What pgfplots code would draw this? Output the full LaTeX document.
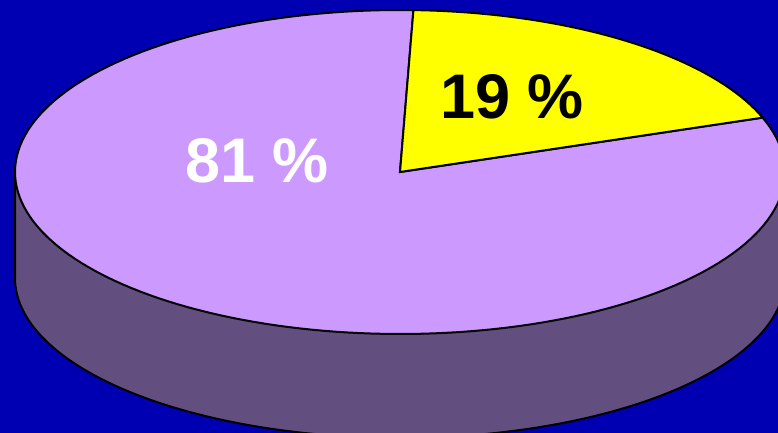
\documentclass[border=0pt]{standalone}
\usepackage{fontspec}
\setmainfont{Liberation Sans}
\usepackage{pgfplots}
\pgfplotsset{compat=1.18}
\usepackage{pgfplotstable}

\definecolor{bgblue}{RGB}{0,0,178}
\definecolor{lav}{RGB}{204,153,255}
\definecolor{sidecol}{RGB}{99,79,127}
\definecolor{yel}{RGB}{255,255,0}

% pie shares (percent)
\pgfplotstableread{
share value
a 81
b 19
}\pietable

\begin{document}
\begin{tikzpicture}
\pgfplotstablegetelem{0}{value}\of\pietable \let\valA\pgfplotsretval
\pgfplotstablegetelem{1}{value}\of\pietable \let\valB\pgfplotsretval
\pgfmathsetmacro\angY{\valB/(\valA+\valB)*360}
\pgfmathsetmacro\yStart{88-\angY}
\pgfmathsetmacro\pEnd{88-\angY+360}
\begin{axis}[
    scale only axis,
    width=389pt, height=216.5pt,
    xmin=0, xmax=778, ymin=0, ymax=433,
    y dir=reverse,
    hide axis,
    samples=160,
    variable=\t,
]
% background
\addplot[fill=bgblue, draw=none] coordinates {(0,0) (778,0) (778,433) (0,433)} -- cycle;
% side of the disc
\addplot[fill=sidecol, draw=black, line width=1pt, domain=180:360]
    ({400+385*cos(\t)}, {278-160*sin(\t)}) -- (axis cs:785,172) -- (axis cs:15,172) -- cycle;
% top face: purple share
\addplot[fill=lav, draw=black, line width=1pt, domain=88:\pEnd]
    ({400+385*cos(\t)}, {172-162*sin(\t)}) -- (axis cs:400,172) -- cycle;
% top face: yellow share
\addplot[fill=yel, draw=black, line width=1pt, domain=\yStart:88]
    ({400+385*cos(\t)}, {172-162*sin(\t)}) -- (axis cs:400,172) -- cycle;
\node[font=\fontsize{31.5}{36}\selectfont\bfseries, text=black] at (axis cs:512,97) {19 \%};
\node[font=\fontsize{31.5}{36}\selectfont\bfseries, text=white] at (axis cs:257,161) {81 \%};
\end{axis}
\pgfresetboundingbox
\useasboundingbox (current axis.south west) rectangle (current axis.north east);
\end{tikzpicture}
\end{document}
